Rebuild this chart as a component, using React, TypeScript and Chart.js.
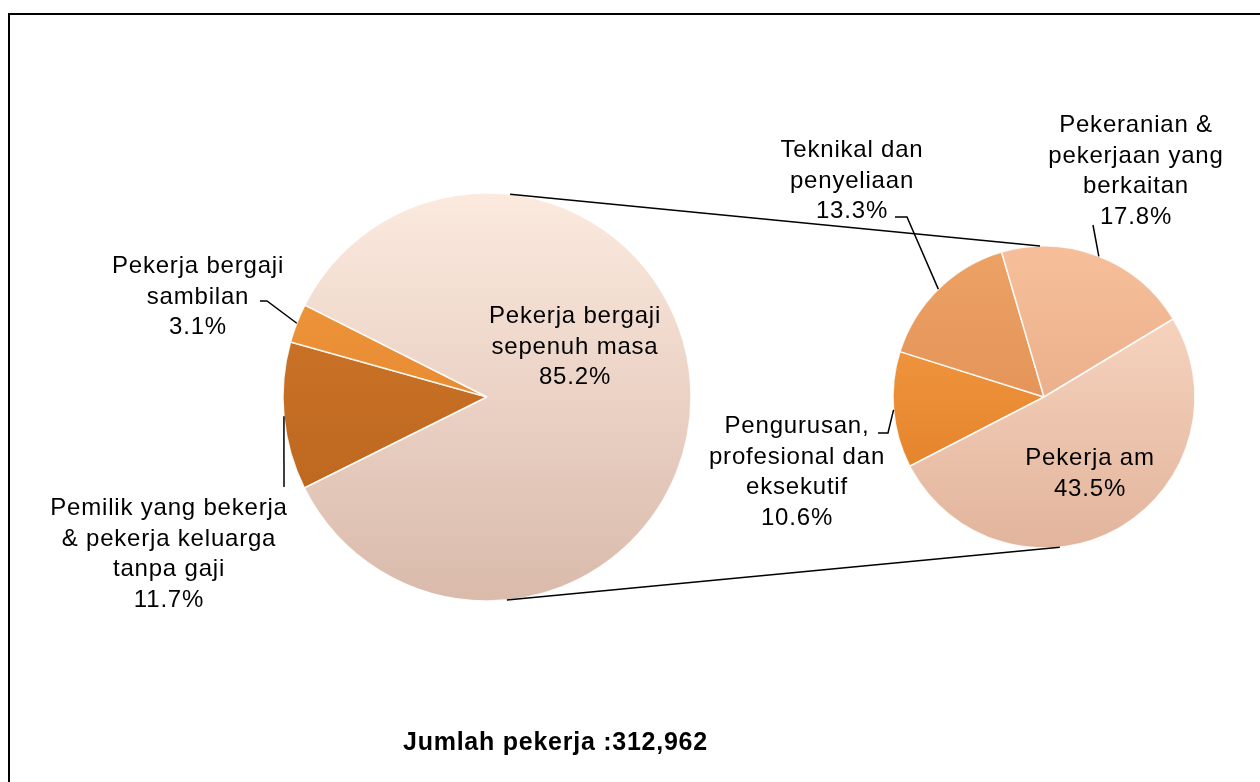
import { useEffect, useRef } from "react";
import { Chart, registerables } from "chart.js";

Chart.register(...registerables);

// ---------- DATA ----------
const mainCategories = [
  "Pemilik yang bekerja & pekerja keluarga tanpa gaji",
  "Pekerja bergaji sambilan",
  "Pekerja bergaji sepenuh masa",
];
const mainValues = [11.7, 3.1, 85.2];
const mainLabelLines = [
  ["Pemilik yang bekerja", "& pekerja keluarga", "tanpa gaji"],
  ["Pekerja bergaji", "sambilan"],
  ["Pekerja bergaji", "sepenuh masa"],
];

const subCategories = [
  "Pengurusan, profesional dan eksekutif",
  "Teknikal dan penyeliaan",
  "Pekeranian & pekerjaan yang berkaitan",
  "Pekerja am",
];
const subValues = [10.6, 13.3, 17.8, 43.5];
const subLabelLines = [
  ["Pengurusan,", "profesional dan", "eksekutif"],
  ["Teknikal dan", "penyeliaan"],
  ["Pekeranian &", "pekerjaan yang", "berkaitan"],
  ["Pekerja am"],
];

const totalLabel = "Jumlah pekerja :312,962";

// ---------- LAYOUT / STYLE ----------
const W = 1260;
const H = 782;
const FONT = "'Liberation Sans', Arial, sans-serif";
const LINE = 30.5;
const BORDER_W = 1.5;

const mainPie = { cx: 487, cy: 397, r: 204, rotation: 243.5 };
const subPie = { cx: 1044, cy: 397, r: 151, rotation: 242.7 };

// gradient colours per slice: [top, bottom]
const mainColors: [string, string][] = [
  ["#D47C2C", "#B5601C"],
  ["#F29A3E", "#DD7E27"],
  ["#FCEADF", "#D9BAAB"],
];
const subColors: [string, string][] = [
  ["#F7A04A", "#DE7B22"],
  ["#EDA266", "#DC874A"],
  ["#F6BF9A", "#E0A27E"],
  ["#FCDCC8", "#E2B49C"],
];

type LabelPos = { x: number; y: number; leader?: [number, number][] };

const mainLabelPos: LabelPos[] = [
  { x: 169, y: 515, leader: [[284, 487]] },
  { x: 198, y: 273, leader: [[260, 301], [267, 301]] },
  { x: 575, y: 323 },
];
const subLabelPos: LabelPos[] = [
  { x: 797, y: 433, leader: [[878, 433], [888, 433]] },
  { x: 852, y: 157, leader: [[895, 217], [907, 217]] },
  { x: 1136, y: 132, leader: [[1093, 225]] },
  { x: 1090, y: 465 },
];

const totalPos = { x: 403, y: 750 };

// connector angles (degrees, screen) on [main pie, sub pie]
const connectorAngles: [number, number][] = [
  [-83.5, -91.5],
  [84.4, 84.0],
];

function padFor(p: { cx: number; cy: number; r: number }) {
  const r = p.r + BORDER_W / 2;
  return {
    left: p.cx - r,
    top: p.cy - r,
    right: W - (p.cx + r),
    bottom: H - (p.cy + r),
  };
}

function gradientColors(colors: [string, string][]) {
  return (ctx: any) => {
    const chart = ctx.chart;
    const area = chart.chartArea;
    const c = colors[ctx.dataIndex];
    if (!area) return c[0];
    const g = chart.ctx.createLinearGradient(0, area.top, 0, area.bottom);
    g.addColorStop(0, c[0]);
    g.addColorStop(1, c[1]);
    return g;
  };
}

function labelPlugin(
  id: string,
  lines: string[][],
  values: number[],
  pos: LabelPos[],
  extra?: (ctx: CanvasRenderingContext2D) => void
) {
  return {
    id,
    afterDatasetsDraw(chart: any) {
      const ctx: CanvasRenderingContext2D = chart.ctx;
      const arcs = chart.getDatasetMeta(0).data;
      ctx.save();
      // leaders
      ctx.strokeStyle = "#000";
      ctx.lineWidth = 1.5;
      pos.forEach((p, i) => {
        if (!p.leader) return;
        const a = arcs[i].getProps(["x", "y", "startAngle", "endAngle", "outerRadius"], true);
        const mid = (a.startAngle + a.endAngle) / 2;
        const ex = a.x + Math.cos(mid) * a.outerRadius;
        const ey = a.y + Math.sin(mid) * a.outerRadius;
        ctx.beginPath();
        ctx.moveTo(p.leader[0][0], p.leader[0][1]);
        for (let k = 1; k < p.leader.length; k++) ctx.lineTo(p.leader[k][0], p.leader[k][1]);
        ctx.lineTo(ex, ey);
        ctx.stroke();
      });
      // texts
      ctx.fillStyle = "#000";
      ctx.font = `24px ${FONT}`;
      (ctx as any).letterSpacing = "0.8px";
      ctx.textAlign = "center";
      ctx.textBaseline = "alphabetic";
      pos.forEach((p, i) => {
        const t = [...lines[i], `${values[i].toFixed(1)}%`];
        t.forEach((s, k) => ctx.fillText(s, p.x, p.y + k * LINE));
      });
      if (extra) extra(ctx);
      ctx.restore();
    },
  };
}

export default function App() {
  const mainRef = useRef<HTMLCanvasElement>(null);
  const subRef = useRef<HTMLCanvasElement>(null);

  useEffect(() => {
    const mainChart = new Chart(mainRef.current!, {
      type: "pie",
      data: {
        labels: mainCategories,
        datasets: [
          {
            data: mainValues,
            backgroundColor: gradientColors(mainColors) as any,
            borderColor: "rgba(255,255,255,0.85)",
            borderWidth: BORDER_W,
          },
        ],
      },
      options: {
        responsive: false,
        animation: false,
        rotation: mainPie.rotation,
        layout: { padding: padFor(mainPie) },
        plugins: { legend: { display: false }, tooltip: { enabled: false } },
        events: [],
      },
      plugins: [
        labelPlugin("mainLabels", mainLabelLines, mainValues, mainLabelPos, (ctx) => {
          ctx.font = `bold 25px ${FONT}`;
          (ctx as any).letterSpacing = "0.75px";
          ctx.textAlign = "left";
          ctx.fillText(totalLabel, totalPos.x, totalPos.y);
        }),
      ],
    });

    const connectorPlugin = {
      id: "connectors",
      afterDatasetsDraw(chart: any) {
        const ctx: CanvasRenderingContext2D = chart.ctx;
        const m = mainChart.getDatasetMeta(0).data[0] as any;
        const s = chart.getDatasetMeta(0).data[0];
        const mp = m.getProps(["x", "y", "outerRadius"], true);
        const sp = s.getProps(["x", "y", "outerRadius"], true);
        ctx.save();
        ctx.strokeStyle = "#000";
        ctx.lineWidth = 1.5;
        connectorAngles.forEach(([a1, a2]) => {
          const r1 = (a1 * Math.PI) / 180;
          const r2 = (a2 * Math.PI) / 180;
          ctx.beginPath();
          ctx.moveTo(mp.x + Math.cos(r1) * mp.outerRadius, mp.y + Math.sin(r1) * mp.outerRadius);
          ctx.lineTo(sp.x + Math.cos(r2) * sp.outerRadius, sp.y + Math.sin(r2) * sp.outerRadius);
          ctx.stroke();
        });
        ctx.restore();
      },
    };

    const subChart = new Chart(subRef.current!, {
      type: "pie",
      data: {
        labels: subCategories,
        datasets: [
          {
            data: subValues,
            backgroundColor: gradientColors(subColors) as any,
            borderColor: "rgba(255,255,255,0.85)",
            borderWidth: BORDER_W,
          },
        ],
      },
      options: {
        responsive: false,
        animation: false,
        rotation: subPie.rotation,
        layout: { padding: padFor(subPie) },
        plugins: { legend: { display: false }, tooltip: { enabled: false } },
        events: [],
      },
      plugins: [connectorPlugin, labelPlugin("subLabels", subLabelLines, subValues, subLabelPos)],
    });

    return () => {
      subChart.destroy();
      mainChart.destroy();
    };
  }, []);

  return (
    <div
      style={{
        position: "fixed",
        left: 0,
        top: 0,
        width: W,
        height: H,
        overflow: "hidden",
        background: "#fff",
      }}
    >
      <div
        style={{
          position: "absolute",
          left: 8,
          top: 13,
          width: 1400,
          height: 900,
          border: "2px solid #000",
          boxSizing: "border-box",
        }}
      />
      <canvas ref={mainRef} width={W} height={H} style={{ position: "absolute", left: 0, top: 0 }} />
      <canvas
        ref={subRef}
        width={W}
        height={H}
        style={{ position: "absolute", left: 0, top: 0, pointerEvents: "none" }}
      />
    </div>
  );
}
